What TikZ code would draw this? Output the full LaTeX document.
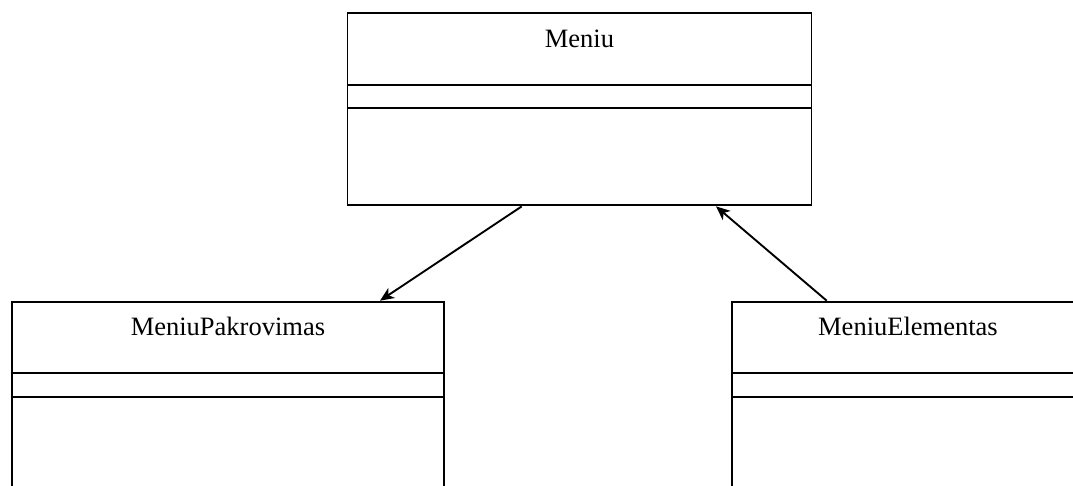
\documentclass[tikz,border=0pt]{standalone}
\usepackage{fontspec}
\setmainfont{Liberation Serif}
\usetikzlibrary{arrows.meta}
\begin{document}
\begin{tikzpicture}[x=1pt,y=-1pt,
  classbox/.style={draw, line width=1.9pt, rectangle, anchor=north west, inner sep=0pt},
  classname/.style={font=\fontsize{26.5}{30}\selectfont, inner sep=0pt},
  divider/.style={line width=1.9pt},
  assoc/.style={line width=1.9pt, -{Stealth[length=14pt,width=12pt,inset=4pt]}}]
\clip (0,0) rectangle (1073,486);

% Meniu class
\node[classbox, minimum width=464pt, minimum height=192pt] (meniu) at (346.5,12.5) {};
\node[classname] (meniuname) at ([yshift=-26pt]meniu.north) {Meniu};
\draw[divider] ([yshift=-72.2pt]meniu.north west) -- ([yshift=-72.2pt]meniu.north east);
\draw[divider] ([yshift=-95.8pt]meniu.north west) -- ([yshift=-95.8pt]meniu.north east);

% MeniuPakrovimas class
\node[classbox, minimum width=432.6pt, minimum height=230pt] (pakr) at (10.7,300.7) {};
\node[classname] (pakrname) at ([yshift=-26pt]pakr.north) {MeniuPakrovimas};
\draw[divider] ([yshift=-72pt]pakr.north west) -- ([yshift=-72pt]pakr.north east);
\draw[divider] ([yshift=-96pt]pakr.north west) -- ([yshift=-96pt]pakr.north east);

% MeniuElementas class
\node[classbox, minimum width=352pt, minimum height=230pt] (elem) at (731,300.7) {};
\node[classname] (elemname) at ([yshift=-26pt]elem.north) {MeniuElementas};
\draw[divider] ([yshift=-72pt]elem.north west) -- ([yshift=-72pt]elem.north east);
\draw[divider] ([yshift=-96pt]elem.north west) -- ([yshift=-96pt]elem.north east);

% associations
\draw[assoc] ([xshift=175.2pt]meniu.south west) -- ([xshift=369.3pt]pakr.north west);
\draw[assoc] ([xshift=95.7pt]elem.north west) -- ([xshift=369.5pt]meniu.south west);
\end{tikzpicture}
\end{document}
